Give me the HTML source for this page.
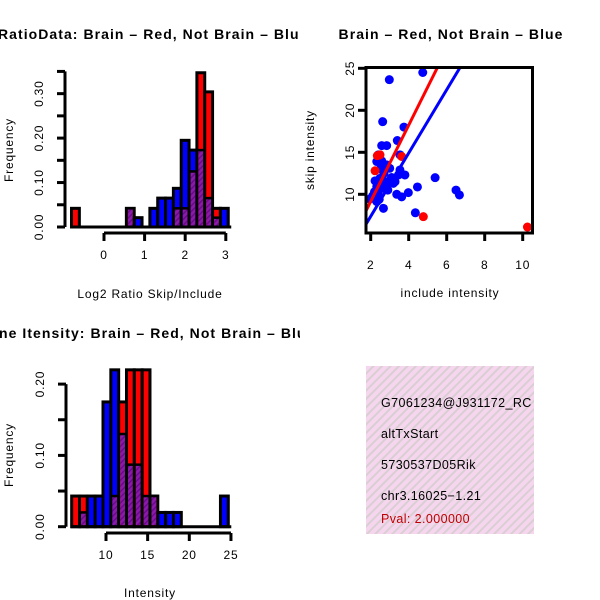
<!DOCTYPE html>
<html><head><meta charset="utf-8"><style>
html,body{margin:0;padding:0;background:#fff;}
svg{display:block;font-family:"Liberation Sans",Arial,sans-serif;}
text{letter-spacing:0.8px;}
text.ttl{letter-spacing:1.05px;}
text.info{letter-spacing:0.4px;}
</style></head><body>
<svg id="c" width="600" height="600" viewBox="0 0 600 600" xmlns="http://www.w3.org/2000/svg">
<defs>
<clipPath id="clipL"><rect x="0" y="0" width="300" height="600"/></clipPath>
<clipPath id="clipBox"><rect x="366" y="366" width="168" height="168"/></clipPath>
<clipPath id="clipSc"><rect x="366" y="67" width="167" height="166"/></clipPath>
<pattern id="hatch" width="6" height="6" patternUnits="userSpaceOnUse" patternTransform="rotate(45)">
<rect width="6" height="6" fill="#f6d6ee"/><rect width="2" height="6" fill="#d9cfd3"/></pattern>
<pattern id="purp" width="4" height="4" patternUnits="userSpaceOnUse" patternTransform="rotate(45)">
<rect width="4" height="4" fill="#8a1aa8"/><rect width="1.5" height="4" fill="#6a0a8a"/></pattern>
</defs>
<g id="g1" clip-path="url(#clipL)"></g>
<g id="g2"></g>
<g id="g3" clip-path="url(#clipL)"></g>
<g id="g4"></g>
</svg>
<script>
// Top-left histogram data (Log2 ratio)
const ratioStart = -0.8, ratioWidth = 0.193;
const ratioRed  = [0.042,0,0,0,0,0,0,0.042,0,0,0,0,0,0.042,0.042,0.125,0.347,0.304,0.042,0];
const ratioBlue = [0,0,0,0,0,0,0,0.042,0.021,0,0.042,0.065,0.065,0.087,0.195,0.173,0.173,0.065,0.021,0.042];
const ratioXTicks = [0,1,2,3];
const ratioYTicks = [0,0.05,0.1,0.15,0.2,0.25,0.3,0.35];
const ratioYLabels = ["0.00","","0.10","","0.20","","0.30",""];
// Bottom-left histogram data (Intensity)
const intStart = 5.88, intWidth = 0.94;
const intRed  = [0.043,0.043,0,0,0,0.043,0.175,0.22,0.22,0.22,0.043,0,0,0,0,0,0,0,0,0];
const intBlue = [0,0.02,0.043,0.043,0.175,0.22,0.13,0.087,0.087,0.043,0.043,0.02,0.02,0.02,0,0,0,0,0,0.043];
const intXTicks = [10,15,20,25];
const intYTicks = [0,0.05,0.1,0.15,0.2];
const intYLabels = ["0.00","","0.10","","0.20"];
// Scatter data
const blueX = [4.74,2.98,2.63,3.75,3.4,2.58,2.84,3.54,2.4,2.32,2.58,2.84,3.0,3.54,3.46,3.8,5.39,2.23,2.49,2.75,3.02,3.28,2.32,2.58,2.84,3.19,4.46,6.49,6.67,3.37,3.63,3.98,1.96,2.32,2.67,4.35,2.2,2.4,2.1,2.45,2.7,3.1,2.9,2.5];
const blueY = [24.5,23.65,18.65,18.0,16.4,15.8,15.8,14.7,14.7,13.9,13.97,13.5,13.1,12.9,12.3,12.3,11.98,11.6,11.9,11.5,11.7,11.5,10.9,10.7,11.1,11.3,10.87,10.5,9.92,10.0,9.7,10.2,9.44,9.13,8.33,7.8,10.3,10.0,9.8,9.4,12.5,12.0,10.5,13.0];
const redX = [2.35,2.49,2.23,3.63,4.77,10.25];
const redY = [14.6,14.7,12.8,14.5,7.34,6.1];
const redLine = [0.07,4.54];   // intercept, slope
const blueLine = [-0.17,3.77];
const scXTicks = [2,4,6,8,10];
const scYTicks = [10,15,20,25];

const NS="http://www.w3.org/2000/svg";
function mk(parent,tag,attrs,text){const e=document.createElementNS(NS,tag);for(const k in attrs)e.setAttribute(k,attrs[k]);if(text!==undefined)e.textContent=text;parent.appendChild(e);return e;}

function hist(g,start,width,red,blue,xs,y0,yk,xTicks,yTicks,yLabels,axisY,yAxisX){
  const xp=u=>xs.x0+xs.k*u, yp=v=>y0-yk*v;
  for(let i=0;i<red.length;i++){
    const a=xp(start+i*width), b=xp(start+(i+1)*width), r=red[i], bl=blue[i];
    const hi=Math.max(r,bl), lo=Math.min(r,bl);
    if(hi<=0) continue;
    const col=r>=bl?"#ff0000":"#0000ff";
    const rect=mk(g,"rect",{x:a,y:yp(hi),width:b-a,height:yp(0)-yp(hi),fill:col,stroke:"#000","stroke-width":3});
    
    
    if(lo>0){
      const p=mk(g,"rect",{x:a+1.5,y:yp(lo),width:b-a-3,height:yp(0)-yp(lo)-1.5,fill:"url(#purp)"});
      
      
      mk(g,"line",{x1:a,x2:b,y1:yp(lo),y2:yp(lo),stroke:"#000","stroke-width":2.5});
    }
  }
  mk(g,"line",{x1:xp(start)-1,x2:xp(start+red.length*width)+3,y1:yp(0),y2:yp(0),stroke:"#000","stroke-width":3});
  const xa=mk(g,"g",{});
  
  
  mk(xa,"line",{x1:xp(xTicks[0]),x2:xp(xTicks[xTicks.length-1]),y1:axisY,y2:axisY,stroke:"#000","stroke-width":3});
  xTicks.forEach(t=>{mk(xa,"line",{x1:xp(t),x2:xp(t),y1:axisY,y2:axisY+8,stroke:"#000","stroke-width":3});
    mk(xa,"text",{x:xp(t),y:axisY+26,"text-anchor":"middle","font-size":12},String(t));});
  const ya=mk(g,"g",{});
  
  
  mk(ya,"line",{x1:yAxisX,x2:yAxisX,y1:yp(yTicks[0]),y2:yp(yTicks[yTicks.length-1]),stroke:"#000","stroke-width":3});
  yTicks.forEach((t,i)=>{mk(ya,"line",{x1:yAxisX-8,x2:yAxisX,y1:yp(t),y2:yp(t),stroke:"#000","stroke-width":3});
    if(yLabels[i]) mk(ya,"text",{x:yAxisX-22,y:yp(t),"text-anchor":"middle","font-size":12,transform:`rotate(-90 ${yAxisX-22} ${yp(t)})`},yLabels[i]);});
}

const g1=document.getElementById("g1");
hist(g1,ratioStart,ratioWidth,ratioRed,ratioBlue,{x0:104,k:40.6},227,444.5,ratioXTicks,ratioYTicks,ratioYLabels,233,65);
let t=mk(g1,"text",{x:-2,y:39,"font-size":14,"font-weight":"bold","class":"ttl"},"RatioData: Brain \u2013 Red, Not Brain \u2013 Blue");

t=mk(g1,"text",{x:150,y:298,"text-anchor":"middle","font-size":12},"Log2 Ratio Skip/Include");

t=mk(g1,"text",{x:13,y:150,"text-anchor":"middle","font-size":12,transform:"rotate(-90 13 150)"},"Frequency");


const g3=document.getElementById("g3");
hist(g3,intStart,intWidth,intRed,intBlue,{x0:106-83.3,k:8.33},526.7,713,intXTicks,intYTicks,intYLabels,533,66);
t=mk(g3,"text",{x:-1,y:338,"font-size":14,"font-weight":"bold","class":"ttl"},"ne Itensity: Brain \u2013 Red, Not Brain \u2013 Blue");

t=mk(g3,"text",{x:150,y:597,"text-anchor":"middle","font-size":12},"Intensity");

t=mk(g3,"text",{x:13,y:455,"text-anchor":"middle","font-size":12,transform:"rotate(-90 13 455)"},"Frequency");


// Scatter
const g2=document.getElementById("g2");
const sx=u=>370.7+19.0*(u-2), sy=v=>194.3-8.4*(v-10);
const pts=mk(g2,"g",{"clip-path":"url(#clipSc)"});

blueX.forEach((x,i)=>{const c=mk(pts,"circle",{cx:sx(x),cy:sy(blueY[i]),r:4.5,fill:"#0000ff"});
  });
redX.forEach((x,i)=>{const c=mk(pts,"circle",{cx:sx(x),cy:sy(redY[i]),r:4.5,fill:"#ff0000"});
  });
[[blueLine,"#0000ff","fit-line-blue"],[redLine,"#ff0000","fit-line-red"]].forEach(([L,col,n])=>{
  const l=mk(pts,"line",{x1:sx(1),y1:sy(L[0]+L[1]*1),x2:sx(11),y2:sy(L[0]+L[1]*11),stroke:col,"stroke-width":3});
  });
mk(g2,"rect",{x:366,y:67.5,width:166.5,height:165.5,fill:"none",stroke:"#000","stroke-width":3});
scXTicks.forEach(v=>{mk(g2,"line",{x1:sx(v),x2:sx(v),y1:233,y2:241,stroke:"#000","stroke-width":3});
  mk(g2,"text",{x:sx(v),y:269,"text-anchor":"middle","font-size":12},String(v));});
scYTicks.forEach(v=>{mk(g2,"line",{x1:358,x2:366,y1:sy(v),y2:sy(v),stroke:"#000","stroke-width":3});
  mk(g2,"text",{x:354,y:sy(v),"text-anchor":"middle","font-size":12,transform:`rotate(-90 354 ${sy(v)})`},String(v));});
t=mk(g2,"text",{x:451,y:39,"text-anchor":"middle","font-size":14,"font-weight":"bold","class":"ttl"},"Brain \u2013 Red, Not Brain \u2013 Blue");

t=mk(g2,"text",{x:450,y:297,"text-anchor":"middle","font-size":12},"include intensity");

t=mk(g2,"text",{x:314,y:150,"text-anchor":"middle","font-size":12,transform:"rotate(-90 314 150)"},"skip intensity");


// Info box
const g4=document.getElementById("g4");
const bx=mk(g4,"g",{"clip-path":"url(#clipBox)"});

mk(bx,"rect",{x:366,y:366,width:168,height:168,fill:"url(#hatch)"});
[["G7061234@J931172_RC",407,"#000"],["altTxStart",438,"#000"],["5730537D05Rik",469,"#000"],["chr3.16025\u22121.21",500,"#000"],["Pval: 2.000000",523,"#c00000"]].forEach(([s,y,c],i)=>{
  const e=mk(bx,"text",{x:381,y:y,"font-size":12.5,fill:c,"class":"info"},s);
  });
</script>
</body></html>
